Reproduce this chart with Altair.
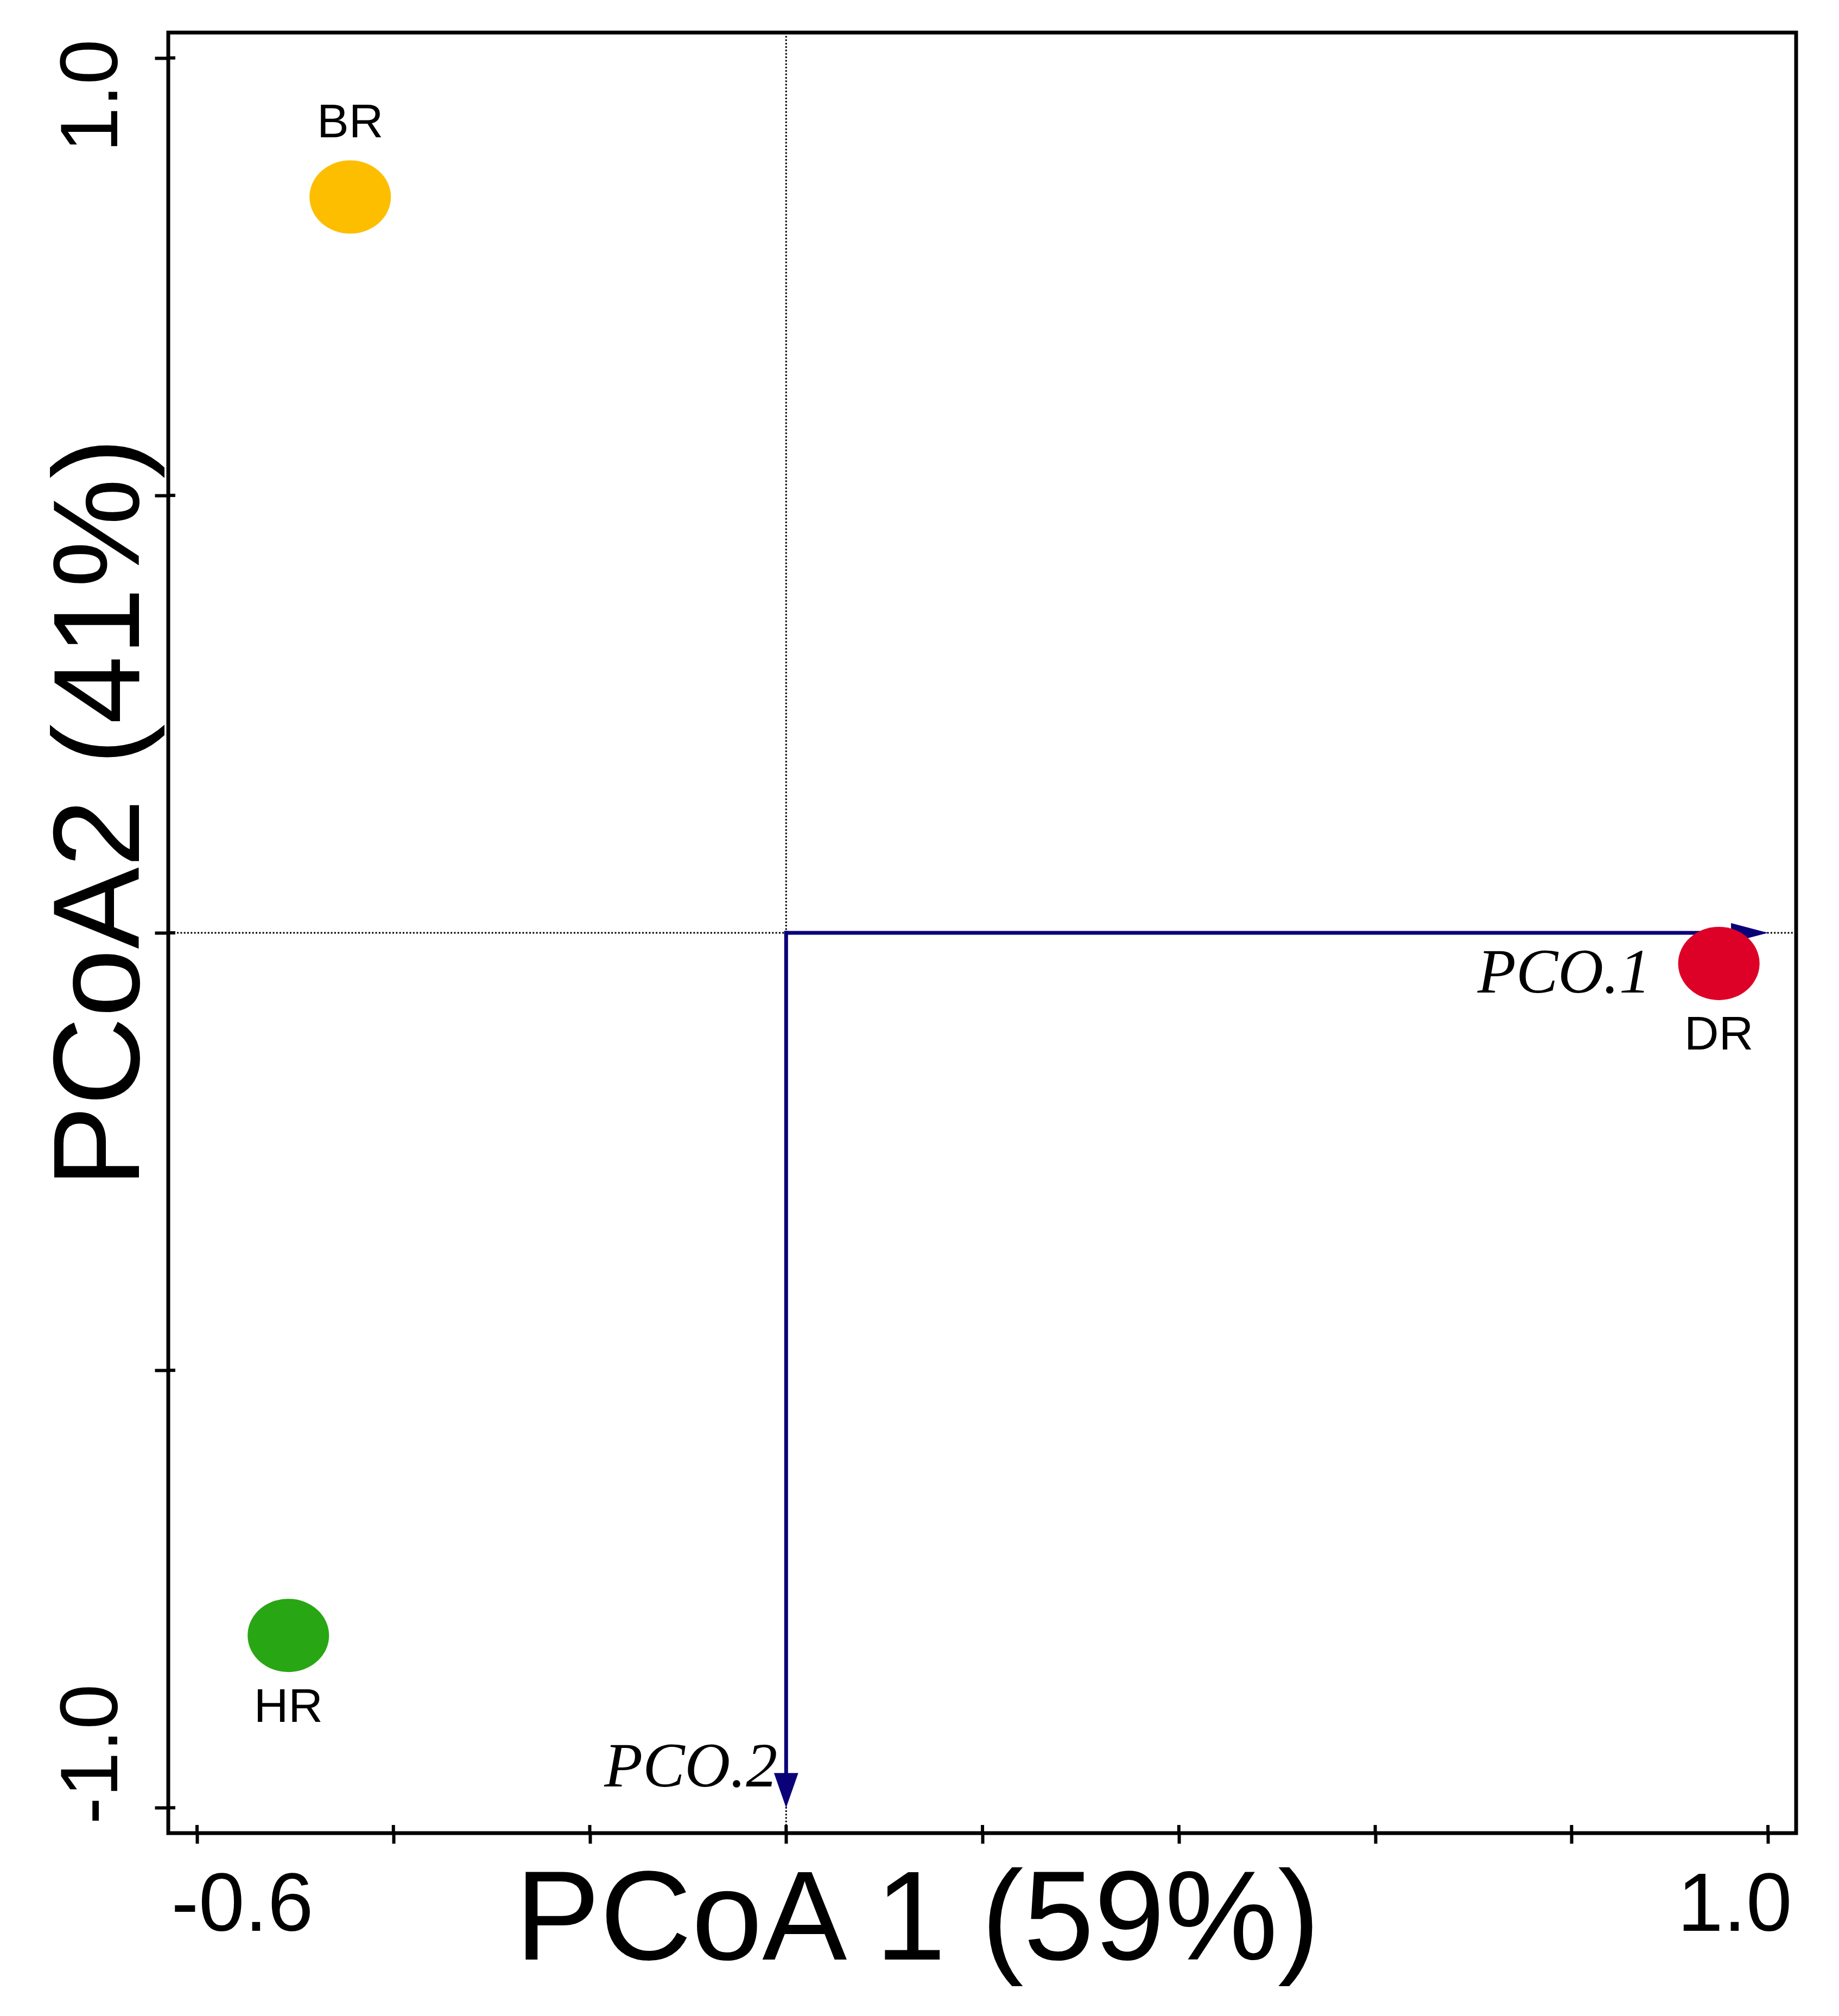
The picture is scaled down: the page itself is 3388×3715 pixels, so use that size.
import json
import altair as alt
import pandas as pd

# ---------------- data ----------------
sites = ["BR", "DR", "HR"]
pcoa1 = [-0.444, 0.950, -0.507]
pcoa2 = [0.841, -0.035, -0.803]
site_colors = ["#FDBE00", "#DD0027", "#29A614"]
label_side = ["above", "below", "below"]

vectors = ["PCO.1", "PCO.2"]
vec_x0 = [0.0, 0.0]
vec_y0 = [0.0, 0.0]
vec_x = [1.0, 0.0]
vec_y = [0.0, -1.0]

x_ticks = [-0.6, -0.4, -0.2, 0.0, 0.2, 0.4, 0.6, 0.8, 1.0]
x_tick_labels = ["-0.6", "", "", "", "", "", "", "", "1.0"]
y_ticks = [-1.0, -0.5, 0.0, 0.5, 1.0]
y_tick_labels = ["-1.0", "", "", "", "1.0"]
ref_lines = [0.0]

x_title = "PCoA 1 (59%)"
y_title = "PCoA2 (41%)"
x_domain = [-0.6293, 1.0287]
y_domain = [-1.029, 1.029]

# ---------------- styling ----------------
W, H = 2999, 3318
SANS = "Liberation Sans, Arial, sans-serif"
NARROW = "Liberation Sans Narrow, Arial Narrow, Liberation Sans, Arial, sans-serif"
SERIF = "Liberation Serif, Times New Roman, serif"
NAVY = "#0A0078"
ELLIPSE = "M-1,0A1,0.9,0,1,0,1,0A1,0.9,0,1,0,-1,0Z"
HEAD_RIGHT = "M0,0L-2,-0.53L-2,0.53Z"
HEAD_DOWN = "M0,0L-0.7,-2L0.7,-2Z"


def label_expr(values, labels):
    return "{}[indexof({}, datum.value)]".format(json.dumps(labels), json.dumps(values))


xs = alt.Scale(domain=x_domain, nice=False, zero=False)
ys = alt.Scale(domain=y_domain, nice=False, zero=False)

x_axis = alt.Axis(
    values=x_ticks, labelExpr=label_expr(x_ticks, x_tick_labels),
    grid=False, domain=False, tickSize=19, tickWidth=6, tickColor="black",
    labelFont=SANS, labelFontSize=152, labelColor="black", labelAngle=0,
    labelBaseline="alphabetic", labelPadding=160, labelOverlap=False,
    labelFlush=False, labelBound=False, labelLimit=0,
    labelAlign={"condition": {"test": "datum.value < 0", "value": "left"}, "value": "right"},
    labelOffset={"condition": {"test": "datum.value < 0", "value": -48}, "value": 44},
    title=x_title, titleFont=SANS, titleFontSize=234, titleFontWeight="normal",
    titleColor="black", titleX=1380, titleY=232, titleAlign="center",
    titleBaseline="alphabetic", titleAngle=0, titleLimit=0,
)
y_axis = alt.Axis(
    values=y_ticks, labelExpr=label_expr(y_ticks, y_tick_labels),
    grid=False, domain=False, tickSize=25, tickWidth=6, tickColor="black",
    labelFont=NARROW, labelFontSize=150, labelColor="black", labelAngle=270,
    labelBaseline="alphabetic", labelPadding=70, labelOverlap=False,
    labelFlush=False, labelBound=False, labelLimit=0,
    labelAlign={"condition": {"test": "datum.value > 0", "value": "right"}, "value": "left"},
    labelOffset={"condition": {"test": "datum.value > 0", "value": -35}, "value": 30},
    title=y_title, titleFont=NARROW, titleFontSize=226, titleFontWeight="normal",
    titleColor="black", titleX=-55, titleY=1437, titleAlign="center",
    titleBaseline="alphabetic", titleAngle=270, titleLimit=0,
)


def X(field):
    return alt.X(field, type="quantitative", scale=xs, axis=x_axis)


def Y(field):
    return alt.Y(field, type="quantitative", scale=ys, axis=y_axis)


pts = pd.DataFrame({"site": sites, "x": pcoa1, "y": pcoa2, "side": label_side})
vec = pd.DataFrame({"name": vectors, "x0": vec_x0, "y0": vec_y0, "x": vec_x, "y": vec_y})
ref = pd.DataFrame({"v": ref_lines})
xt = pd.DataFrame({"t": x_ticks})
yt = pd.DataFrame({"t": y_ticks})

vline = alt.Chart(ref).mark_rule(color="black", strokeWidth=3, strokeDash=[3, 3.3]).encode(x=X("v"))
hline = alt.Chart(ref).mark_rule(color="black", strokeWidth=3, strokeDash=[3, 3.3]).encode(y=Y("v"))

xtick_in = alt.Chart(xt).mark_rule(color="black", strokeWidth=6).encode(
    x=X("t"), y=alt.value(H - 15), y2=alt.value(H))
ytick_in = alt.Chart(yt).mark_rule(color="black", strokeWidth=6).encode(
    y=Y("t"), x=alt.value(0), x2=alt.value(13))

arrow1 = alt.Chart(vec).transform_filter(alt.datum.name == "PCO.1").mark_rule(
    color=NAVY, strokeWidth=7, strokeCap="square", x2Offset=-50
).encode(x=X("x0"), x2="x:Q", y=Y("y0"))
arrow2 = alt.Chart(vec).transform_filter(alt.datum.name == "PCO.2").mark_rule(
    color=NAVY, strokeWidth=7, strokeCap="square", y2Offset=-45
).encode(x=X("x0"), y=Y("y0"), y2="y:Q")

head1 = alt.Chart(vec).transform_filter(alt.datum.name == "PCO.1").mark_point(
    shape=HEAD_RIGHT, size=4624, filled=True, opacity=1, color=NAVY, strokeWidth=0
).encode(x=X("x"), y=Y("y"))
head2 = alt.Chart(vec).transform_filter(alt.datum.name == "PCO.2").mark_point(
    shape=HEAD_DOWN, size=4096, filled=True, opacity=1, color=NAVY, strokeWidth=0
).encode(x=X("x"), y=Y("y"))

points = alt.Chart(pts).mark_point(
    shape=ELLIPSE, size=22500, filled=True, opacity=1, strokeWidth=0
).encode(
    x=X("x"), y=Y("y"),
    color=alt.Color("site:N", scale=alt.Scale(domain=sites, range=site_colors), legend=None),
)

lab_above = alt.Chart(pts).transform_filter(alt.datum.side == "above").mark_text(
    font=SANS, fontSize=88, color="black", align="center", baseline="alphabetic", dy=-110
).encode(x=X("x"), y=Y("y"), text="site:N")
lab_below = alt.Chart(pts).transform_filter(alt.datum.side == "below").mark_text(
    font=SANS, fontSize=88, color="black", align="center", baseline="alphabetic", dy=159
).encode(x=X("x"), y=Y("y"), text="site:N")

vlab1 = alt.Chart(vec).transform_filter(alt.datum.name == "PCO.1").mark_text(
    font=SERIF, fontStyle="italic", fontSize=116, color="black",
    align="right", baseline="alphabetic", dx=-216, dy=110
).encode(x=X("x"), y=Y("y"), text="name:N")
vlab2 = alt.Chart(vec).transform_filter(alt.datum.name == "PCO.2").mark_text(
    font=SERIF, fontStyle="italic", fontSize=116, color="black",
    align="right", baseline="alphabetic", dx=-16, dy=-39
).encode(x=X("x"), y=Y("y"), text="name:N")

chart = alt.layer(
    vline, hline, xtick_in, ytick_in, arrow1, arrow2, head1, head2,
    points, lab_above, lab_below, vlab1, vlab2
).properties(
    width=W, height=H,
    autosize=alt.AutoSizeParams(type="none"),
    padding={"left": 302, "top": 52, "right": 70, "bottom": 320},
    background="white",
).configure_view(stroke="black", strokeWidth=7)

chart.save("out.html", embed_options={"renderer": "svg", "actions": False})
